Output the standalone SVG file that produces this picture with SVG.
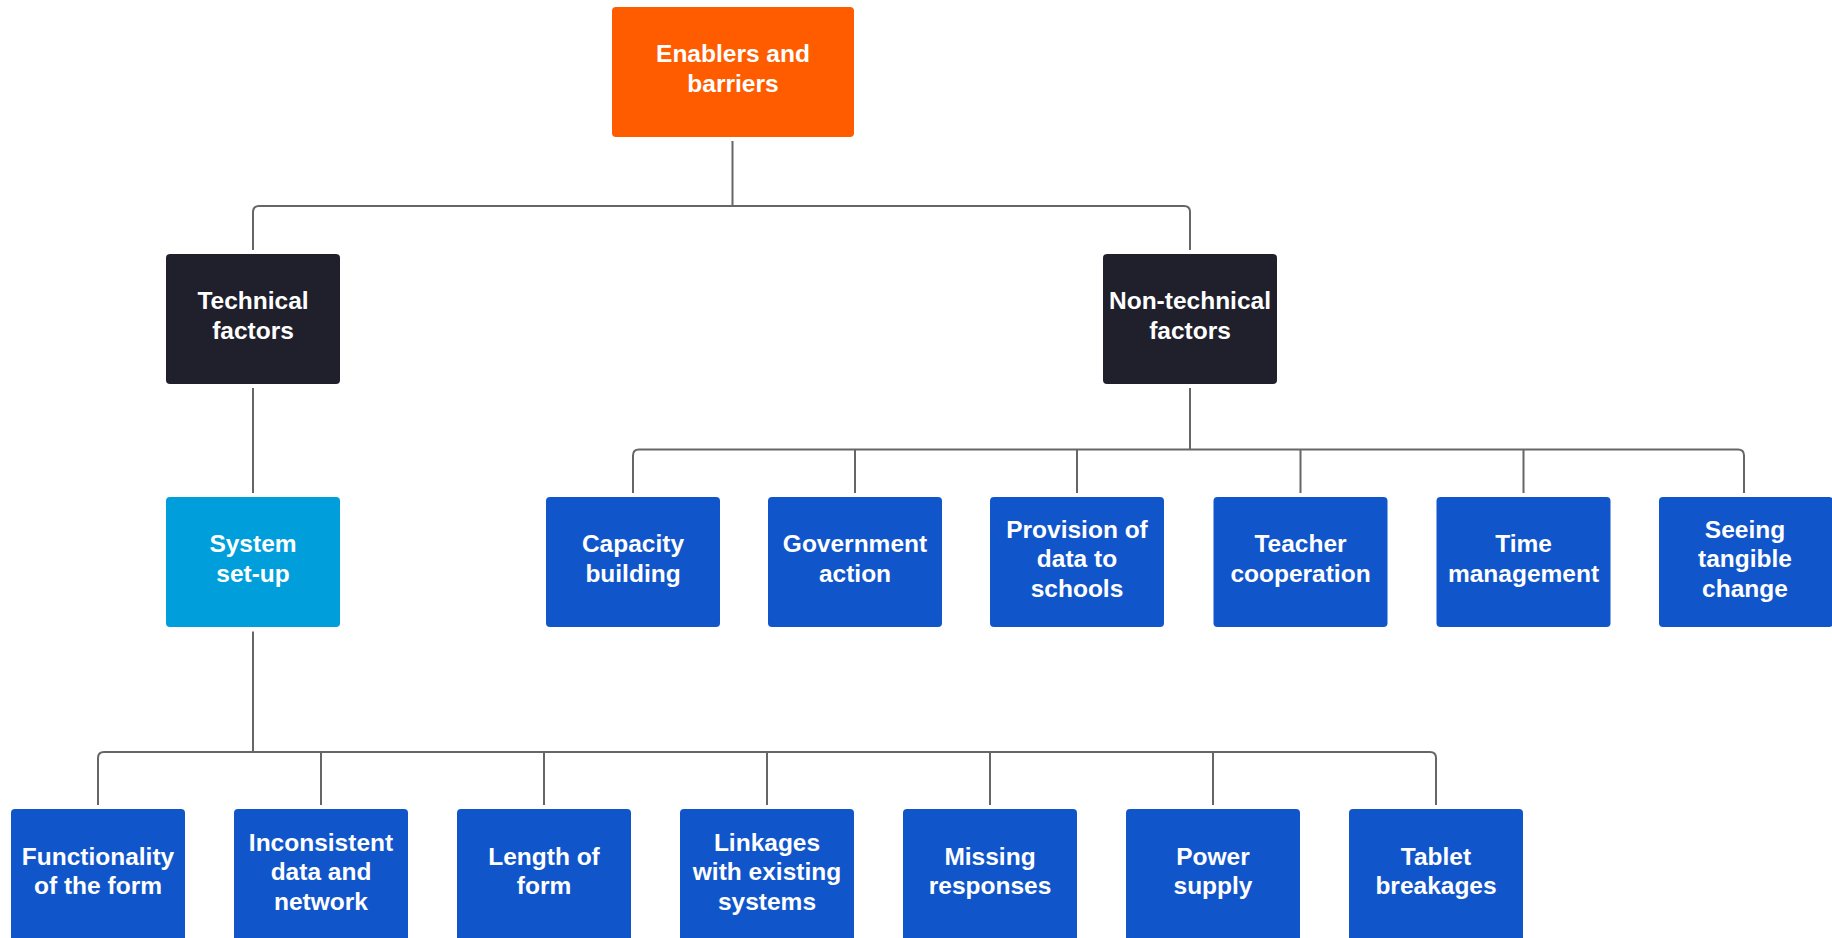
<svg xmlns="http://www.w3.org/2000/svg" width="1832" height="938" viewBox="0 0 1832 938">
<style>
.root{fill:#FF5C00}
.dark{fill:#201F2C}
.sys{fill:#009FDC}
.leaf{fill:#1155CB}
text{font-family:"Liberation Sans",Arial,sans-serif;font-weight:bold;font-size:24.5px;fill:#FFFFFF;text-anchor:middle}
.c path{fill:none;stroke:#666666;stroke-width:2}
</style>
<rect width="1832" height="938" fill="#FFFFFF"/>
<g class="c" id="connectors">
<path d="M732.5 141 V206 M253 250 V212 Q253 206 259 206 H1184 Q1190 206 1190 212 V250"/>
<path d="M253 388 V493"/>
<path d="M1190 388 V449.5 M633 493 V455.5 Q633 449.5 639 449.5 H1738 Q1744 449.5 1744 455.5 V493 M855 449.5 V493 M1077 449.5 V493 M1300.5 449.5 V493 M1523.5 449.5 V493"/>
<path d="M253 631.5 V752 M98 805 V758 Q98 752 104 752 H1430 Q1436 752 1436 758 V805 M321 752 V805 M544 752 V805 M767 752 V805 M990 752 V805 M1213 752 V805"/>
</g>
<g id="n-root"><rect class="root" x="612" y="7" width="242" height="130" rx="4"/><text x="733" y="62">Enablers and</text><text x="733" y="92">barriers</text></g>
<g id="n-technical"><rect class="dark" x="166" y="254" width="174" height="130" rx="4"/><text x="253" y="309">Technical</text><text x="253" y="339">factors</text></g>
<g id="n-nontechnical"><rect class="dark" x="1103" y="254" width="174" height="130" rx="4"/><text x="1190" y="309">Non-technical</text><text x="1190" y="339">factors</text></g>
<g id="n-system"><rect class="sys" x="166" y="497" width="174" height="130" rx="4"/><text x="253" y="552">System</text><text x="253" y="582">set-up</text></g>
<g id="n-capacity"><rect class="leaf" x="546" y="497" width="174" height="130" rx="4"/><text x="633" y="552">Capacity</text><text x="633" y="582">building</text></g>
<g id="n-government"><rect class="leaf" x="768" y="497" width="174" height="130" rx="4"/><text x="855" y="552">Government</text><text x="855" y="582">action</text></g>
<g id="n-provision"><rect class="leaf" x="990" y="497" width="174" height="130" rx="4"/><text x="1077" y="538">Provision of</text><text x="1077" y="567">data to</text><text x="1077" y="597">schools</text></g>
<g id="n-teacher"><rect class="leaf" x="1213.5" y="497" width="174" height="130" rx="4"/><text x="1300.5" y="552">Teacher</text><text x="1300.5" y="582">cooperation</text></g>
<g id="n-time"><rect class="leaf" x="1436.5" y="497" width="174" height="130" rx="4"/><text x="1523.5" y="552">Time</text><text x="1523.5" y="582">management</text></g>
<g id="n-seeing"><rect class="leaf" x="1659" y="497" width="174" height="130" rx="4"/><text x="1745" y="538">Seeing</text><text x="1745" y="567">tangible</text><text x="1745" y="597">change</text></g>
<g id="n-functionality"><rect class="leaf" x="11" y="809" width="174" height="135" rx="4"/><text x="98" y="865">Functionality</text><text x="98" y="894">of the form</text></g>
<g id="n-inconsistent"><rect class="leaf" x="234" y="809" width="174" height="135" rx="4"/><text x="321" y="851">Inconsistent</text><text x="321" y="880">data and</text><text x="321" y="910">network</text></g>
<g id="n-length"><rect class="leaf" x="457" y="809" width="174" height="135" rx="4"/><text x="544" y="865">Length of</text><text x="544" y="894">form</text></g>
<g id="n-linkages"><rect class="leaf" x="680" y="809" width="174" height="135" rx="4"/><text x="767" y="851">Linkages</text><text x="767" y="880">with existing</text><text x="767" y="910">systems</text></g>
<g id="n-missing"><rect class="leaf" x="903" y="809" width="174" height="135" rx="4"/><text x="990" y="865">Missing</text><text x="990" y="894">responses</text></g>
<g id="n-power"><rect class="leaf" x="1126" y="809" width="174" height="135" rx="4"/><text x="1213" y="865">Power</text><text x="1213" y="894">supply</text></g>
<g id="n-tablet"><rect class="leaf" x="1349" y="809" width="174" height="135" rx="4"/><text x="1436" y="865">Tablet</text><text x="1436" y="894">breakages</text></g>
</svg>
